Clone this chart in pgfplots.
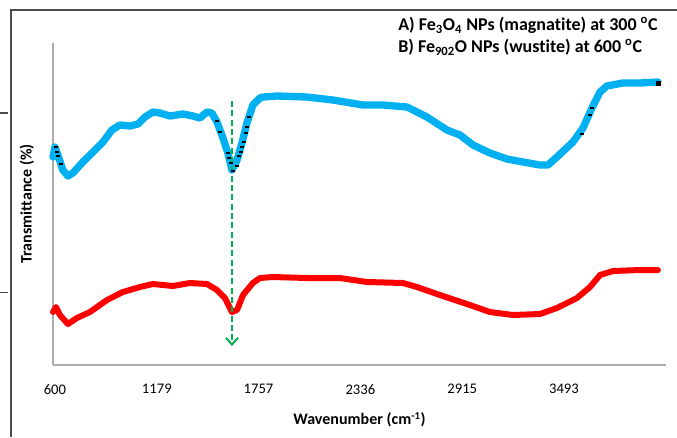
\documentclass[border=0pt]{standalone}
\usepackage{pgfplots}
\pgfplotsset{compat=1.18}
\usepackage{fontspec}
\setmainfont[Ligatures=NoCommon]{Carlito}
\usetikzlibrary{arrows.meta}
\definecolor{xlblue}{RGB}{0,176,240}
\definecolor{xlred}{RGB}{255,0,0}
\definecolor{xlgreen}{RGB}{0,176,80}
\begin{document}
\begin{tikzpicture}
\useasboundingbox (0,0) rectangle (507.75pt,-327.75pt);
\draw[line width=1.1pt, black!70] (8.25pt,-327.75pt) -- (8.25pt,-7.5pt) -- (507.75pt,-7.5pt);
\draw[line width=0.8pt, black!70] (0pt,-84.75pt) -- (6pt,-84.75pt);
\draw[line width=0.8pt, black!70] (0pt,-219.4pt) -- (6pt,-219.4pt);
\begin{axis}[
  at={(39.75pt,-273.75pt)}, anchor=south west,
  scale only axis, width=459.75pt, height=241.5pt,
  xmin=589, xmax=4073, ymin=0, ymax=322,
  axis x line=bottom, axis y line=left,
  axis line style={gray!65, line width=0.8pt, -},
  xtick={600,1179,1757,2336,2915,3493}, ytick=\empty,
  major tick length=0pt,
  /pgf/number format/assume math mode=true,
  /pgf/number format/1000 sep={},
  xticklabel style={font=\fontsize{11}{13}\selectfont, yshift=-11pt},
  xlabel={\textbf{Wavenumber (cm\textsuperscript{-1})}},
  ylabel={\textbf{Transmittance (\%)}},
  xlabel style={font=\fontsize{12}{14}\selectfont, at={(axis description cs:0.5,-0.170)}, anchor=center},
  ylabel style={font=\fontsize{12}{14}\selectfont, at={(axis description cs:-0.0424,0.5)}, anchor=center},
  clip=false,
]
\addplot[xlblue, line width=5.5pt, line join=round, line cap=round] coordinates {
(589,208) (600,218) (617,210) (645,195) (674,189) (702,192) (759,203) (816,213)
(873,223) (924,235) (969,240) (1026,239) (1072,241) (1112,248) (1157,253) (1197,252)
(1254,249) (1328,251) (1384,249) (1424,247) (1464,253) (1492,252) (1521,243) (1555,227)
(1583,212) (1606,195) (1635,205) (1663,222) (1691,242) (1725,260) (1765,267) (1782,268)
(1862,269) (2032,268) (2180,265) (2351,260) (2464,260) (2601,258) (2714,248) (2828,235)
(2902,230) (2976,220) (3072,212) (3169,206) (3260,203) (3357,200) (3402,200) (3453,208)
(3544,223) (3601,237) (3652,257) (3698,273) (3737,279) (3828,282) (3925,282) (4027,283)
};
\addplot[only marks, mark=-, mark size=1.3pt, black, line width=0.8pt] coordinates {
(606,218) (611,213) (617,209) (634,201) (1521,244) (1538,233) (1583,212) (1589,207)
(1600,202) (1612,194) (1635,199) (1646,209) (1657,213) (1663,218) (1674,223) (1686,232)
(1691,238) (1703,248) (3595,231) (3641,250) (3652,257)
};
\addplot[only marks, mark=square*, mark size=1.4pt, black] coordinates {(4027,282)};
\addplot[xlred, line width=4.5pt, line join=round, line cap=round] coordinates {
(589,53) (606,58) (628,50) (674,41) (725,47) (799,53) (896,65) (986,73)
(1083,78) (1157,81) (1271,79) (1367,82) (1464,81) (1521,75) (1566,67) (1606,53)
(1635,55) (1669,70) (1725,82) (1765,87) (1839,88) (2032,87) (2220,87) (2373,83)
(2578,82) (2657,78) (2788,70) (2942,61) (3072,53) (3203,50) (3357,51) (3453,57)
(3567,67) (3641,78) (3698,90) (3772,94) (3925,95) (4027,95)
};
\draw[xlgreen, line width=1.5pt, dash pattern=on 4.5pt off 2.5pt, -{Straight Barb[length=5pt,width=9pt]}] (axis cs:1606,264) -- (axis cs:1606,19);
\end{axis}
\node[anchor=base west, font=\bfseries\fontsize{13.5}{16}\selectfont, inner sep=0pt] at (298.5pt,-23pt) {A) Fe\textsubscript{3}O\textsubscript{4} NPs (magnatite) at 300 \textsuperscript{o}C};
\node[anchor=base west, font=\bfseries\fontsize{13.5}{16}\selectfont, inner sep=0pt] at (298.5pt,-39.25pt) {B) Fe\textsubscript{902}O NPs (wustite) at 600 \textsuperscript{o}C};
\end{tikzpicture}
\end{document}
